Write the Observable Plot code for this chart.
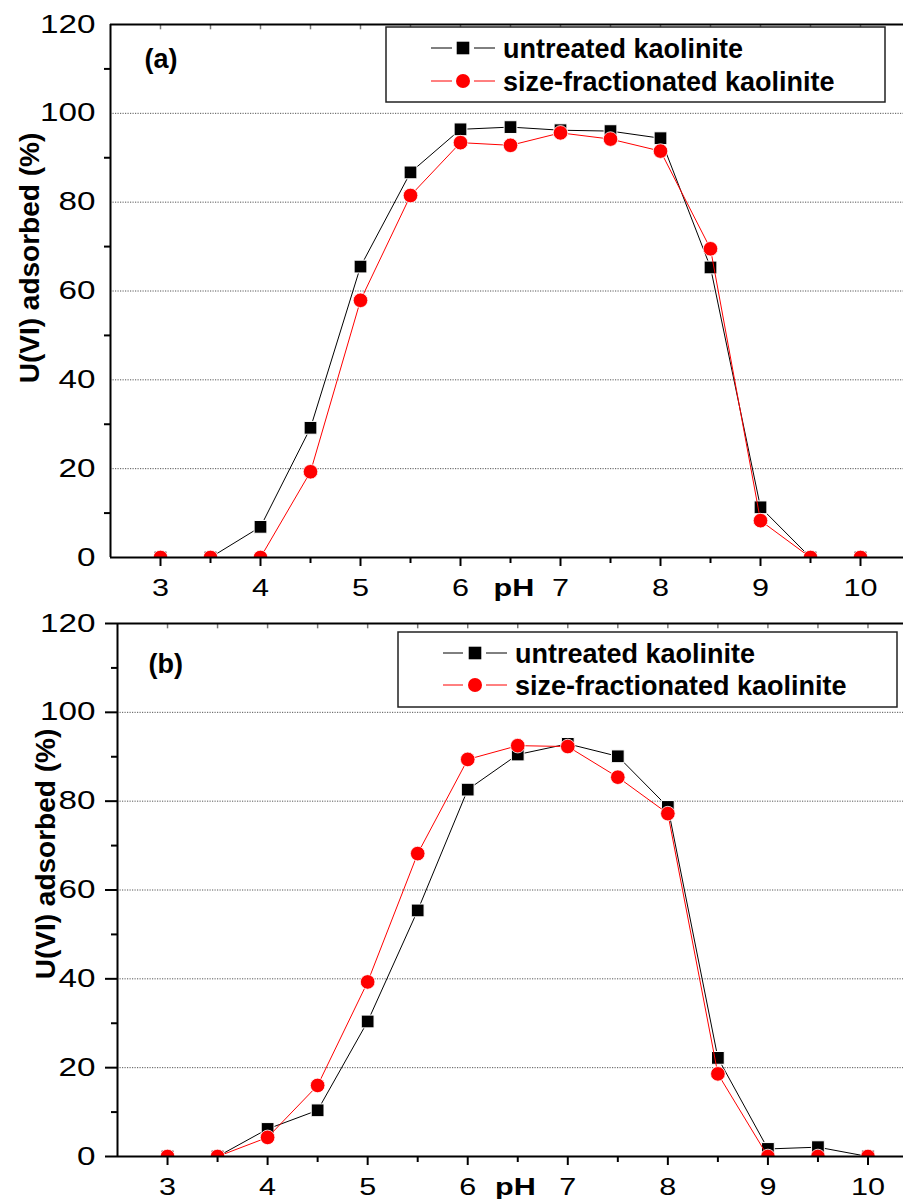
<!DOCTYPE html>
<html>
<head>
<meta charset="utf-8">
<script src="https://cdn.jsdelivr.net/npm/d3@7"></script>
<script src="https://cdn.jsdelivr.net/npm/@observablehq/plot@0.6"></script>
<style>
  html, body { margin: 0; padding: 0; background: #fff; }
  #root { position: relative; width: 903px; height: 1199px; overflow: hidden; background: #fff; }
  #root > svg { position: absolute; left: 0; }
  #overlay { position: absolute; left: 0; top: 0; pointer-events: none; }
</style>
</head>
<body>
<div id="root"></div>
<script>
// ---- data ----
const pH = [3, 3.5, 4, 4.5, 5, 5.5, 6, 6.5, 7, 7.5, 8, 8.5, 9, 9.5, 10];
const untreatedA    = [0, 0, 6.9, 29.2, 65.5, 86.7, 96.4, 96.9, 96.2, 96.0, 94.4, 65.3, 11.3, 0, 0];
const fractionatedA = [0, 0, 0, 19.3, 57.9, 81.5, 93.4, 92.8, 95.6, 94.2, 91.5, 69.5, 8.3, 0, 0];
const untreatedB    = [0, 0, 6.2, 10.4, 30.4, 55.4, 82.6, 90.5, 92.9, 90.1, 78.7, 22.2, 1.7, 2.1, 0];
const fractionatedB = [0, 0, 4.3, 16.0, 39.3, 68.2, 89.4, 92.5, 92.3, 85.4, 77.2, 18.6, 0, 0, 0];

const seriesNames = ["untreated kaolinite", "size-fractionated kaolinite"];
const panelLabels = ["(a)", "(b)"];
const yTitle = "U(VI) adsorbed (%)";
const xTitle = "pH";

const xMajor = [3, 4, 5, 6, 7, 8, 9, 10];
const xMinor = [3.5, 4.5, 5.5, 6.5, 7.5, 8.5, 9.5];
const xTop = [3, 3.5, 4, 4.5, 5, 5.5, 6, 6.5, 7, 7.5, 8, 8.5, 9, 9.5, 10];
const yMajor = [0, 20, 40, 60, 80, 100, 120];
const yMinor = [10, 30, 50, 70, 90, 110];
const yGrid = [20, 40, 60, 80, 100];

const FONT = "'Liberation Sans', Arial, Helvetica, sans-serif";

function panel(o) {
  const rowsU = pH.map((x, i) => ({pH: x, value: o.untreated[i]}));
  const rowsF = pH.map((x, i) => ({pH: x, value: o.fractionated[i]}));
  return Plot.plot({
    width: 903,
    height: o.height,
    marginLeft: o.marginLeft,
    marginRight: 0,
    marginTop: o.marginTop,
    marginBottom: o.marginBottom,
    x: {domain: [2.5, o.xMax]},
    y: {domain: [0, 120]},
    style: {fontFamily: FONT, fontSize: "24px", color: "black", background: "transparent", overflow: "visible"},
    marks: [
      Plot.ruleY(yGrid, {stroke: "#555", strokeWidth: 1, strokeDasharray: "1.2,1.3"}),
      Plot.ruleX(xTop, {y1: 120, y2: 118.8, stroke: "#777", strokeWidth: 1.5}),
      Plot.axisY({ticks: yMajor, tickSize: o.yTickSize, tickPadding: o.yPad, fontSize: 25, label: null, strokeWidth: 2}),
      Plot.axisY({ticks: yMinor, tickSize: 6, text: null, label: null, strokeWidth: 2}),
      Plot.axisX({ticks: xMajor, tickSize: 9, tickPadding: 13, fontSize: 23, label: null, strokeWidth: 2}),
      Plot.axisX({ticks: xMinor, tickSize: 6, text: null, label: null, strokeWidth: 2}),
      Plot.line(rowsU, {x: "pH", y: "value", stroke: "black", strokeWidth: 1}),
      Plot.dot(rowsU, {x: "pH", y: "value", symbol: "square", r: 7.2, fill: "black", stroke: "white", strokeWidth: 1, clip: true}),
      Plot.line(rowsF, {x: "pH", y: "value", stroke: "red", strokeWidth: 1}),
      Plot.dot(rowsF, {x: "pH", y: "value", symbol: "circle", r: 7.3, fill: "red", stroke: "white", strokeWidth: 0.8, clip: true}),
      Plot.ruleY([0, 120], {stroke: "black", strokeWidth: 2}),
      Plot.ruleX([2.5], {stroke: "black", strokeWidth: 2}),
      Plot.text([o.label], {frameAnchor: "top-left", textAnchor: "start", lineAnchor: "middle",
        dx: o.labelDx, dy: o.labelDy, fontWeight: "bold", fontSize: 27, fill: "black"}),
      Plot.text([xTitle], {frameAnchor: "bottom", lineAnchor: "middle", dx: o.pHdx, dy: 31,
        fontWeight: "bold", fontSize: 23, fill: "black"})
    ]
  });
}

const root = document.getElementById("root");

const svgA = panel({untreated: untreatedA, fractionated: fractionatedA, label: panelLabels[0],
  height: 600, marginTop: 24, marginBottom: 43, marginLeft: 110, xMax: 10.43,
  yTickSize: 0, yPad: 15, labelDx: 34, labelDy: 35, pHdx: 7});
svgA.style.top = "0px";
root.appendChild(svgA);

const svgB = panel({untreated: untreatedB, fractionated: fractionatedB, label: panelLabels[1],
  height: 599, marginTop: 23, marginBottom: 43, marginLeft: 117, xMax: 10.355,
  yTickSize: 12, yPad: 10, labelDx: 31, labelDy: 41, pHdx: 5});
svgB.style.top = "600px";
root.appendChild(svgB);

// horizontally widen tick labels and the pH title (as in the reference)
const SX = 1.33;
[svgA, svgB].forEach(svg => {
  svg.querySelectorAll("text").forEach(t => {
    const g = t.parentNode;
    const al = g && g.getAttribute ? (g.getAttribute("aria-label") || "") : "";
    if (al.includes("tick label") || t.textContent === xTitle) {
      const ax = parseFloat(t.getAttribute("x") || "0");
      const tr = t.getAttribute("transform") || "";
      t.setAttribute("transform", `${tr} translate(${ax},0) scale(${SX},1) translate(${-ax},0)`);
    }
  });
});

// overlay: legends and y titles
const ov = d3.select(root).append("svg").attr("id", "overlay")
  .attr("width", 903).attr("height", 1199)
  .style("font-family", FONT);

function legend(box, rowsY, lineX, markX, textX) {
  ov.append("rect").attr("x", box[0]).attr("y", box[1]).attr("width", box[2] - box[0]).attr("height", box[3] - box[1])
    .attr("fill", "white").attr("stroke", "#222").attr("stroke-width", 1.5);
  const colors = ["black", "red"];
  rowsY.forEach((y, i) => {
    const c = colors[i];
    ov.append("line").attr("x1", lineX[0]).attr("x2", lineX[1]).attr("y1", y).attr("y2", y).attr("stroke", c).attr("stroke-width", 1);
    ov.append("line").attr("x1", lineX[2]).attr("x2", lineX[3]).attr("y1", y).attr("y2", y).attr("stroke", c).attr("stroke-width", 1);
    if (i === 0) ov.append("rect").attr("x", markX - 6.3).attr("y", y - 6.3).attr("width", 12.6).attr("height", 12.6).attr("fill", "black");
    else ov.append("circle").attr("cx", markX).attr("cy", y).attr("r", 7).attr("fill", "red");
    ov.append("text").attr("x", textX).attr("y", y).attr("dy", "0.36em")
      .attr("font-size", 27).attr("font-weight", "bold").attr("fill", "black").text(seriesNames[i]);
  });
}
legend([386, 27, 885, 102], [48, 81], [431, 452, 474, 495], 463, 503);
legend([398, 632, 897, 707], [653, 685], [443, 463, 486, 507], 475, 515);

function yLabel(cx, cy) {
  ov.append("text").attr("transform", `translate(${cx},${cy}) rotate(-90)`)
    .attr("text-anchor", "middle").attr("dy", "0.36em")
    .attr("font-size", 28).attr("font-weight", "bold").attr("fill", "black").text(yTitle);
}
yLabel(29, 258);
yLabel(45, 854);
</script>
</body>
</html>
